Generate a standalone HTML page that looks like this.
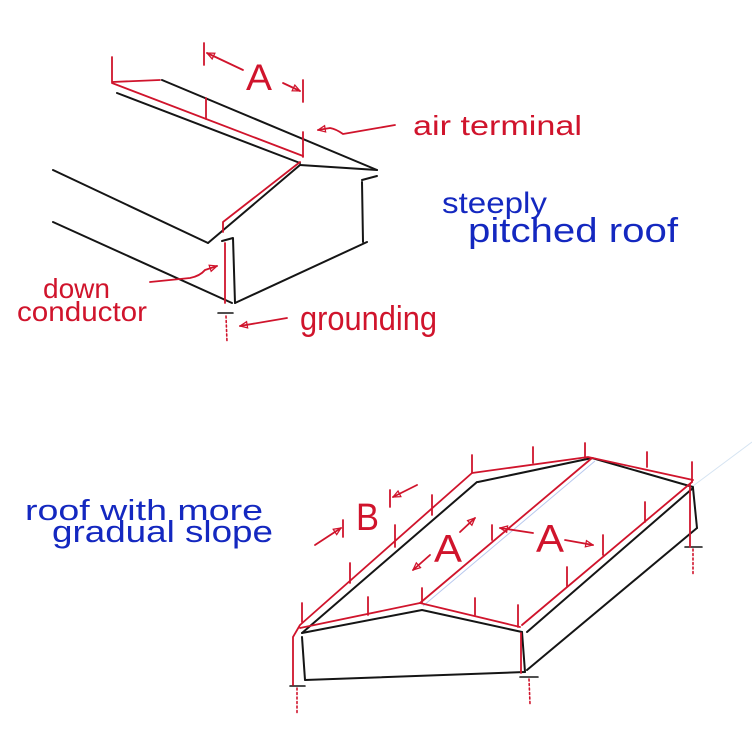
<!DOCTYPE html>
<html>
<head>
<meta charset="utf-8">
<style>
html,body{margin:0;padding:0;background:#ffffff;}
svg{display:block;}
text{font-family:"Liberation Sans",sans-serif;}
</style>
</head>
<body>
<svg width="752" height="736" viewBox="0 0 752 736" xmlns="http://www.w3.org/2000/svg">
<defs>
<marker id="ah" viewBox="0 0 10 10" refX="9" refY="5" markerWidth="9" markerHeight="9" markerUnits="userSpaceOnUse" orient="auto">
<path d="M1,1.5 L9,5 L1,8.5 Z" fill="none" stroke="#d0142c" stroke-width="1.4"/>
</marker>
</defs>
<rect width="752" height="736" fill="#ffffff"/>

<!-- ===== TOP DRAWING ===== -->
<g fill="none" stroke="#151515" stroke-width="2" stroke-linecap="round" stroke-linejoin="round">
<path d="M162,80 L377,170"/>
<path d="M117,93 L300,163"/>
<path d="M300,165 L377,170"/>
<path d="M300,165 L208,243"/>
<path d="M53,170 L208,243"/>
<path d="M53,222 L232,303"/>
<path d="M222,241 L233,238 L235,303"/>
<path d="M235,303 L367,242"/>
<path d="M362,182 L363,242"/>
<path d="M362,180 L377,176"/>
<path d="M218,313 L233,313" stroke-width="1.6"/>
</g>
<g fill="none" stroke="#d0142c" stroke-width="1.8" stroke-linecap="round" stroke-linejoin="round">
<path d="M112,57 L112,82 L160,80"/>
<path d="M112,83 L303,156"/>
<path d="M303,132 L303,157"/>
<path d="M206,98 L206,119"/>
<path d="M300,162 L223,222 L223,232"/>
<path d="M225,243 L225,303"/>
<path d="M204,43 L204,65"/>
<path d="M303,80 L303,102"/>
<path d="M243,70 L207,53" marker-end="url(#ah)"/>
<path d="M283,83 L300,91" marker-end="url(#ah)"/>
<path d="M395,125 L343,134 Q336,129 330,128 L318,130" marker-end="url(#ah)"/>
<path d="M150,282 L190,278 Q200,276 205,270 L217,266" marker-end="url(#ah)"/>
<path d="M287,318 L240,326" marker-end="url(#ah)"/>
<path d="M226,316 L227,342" stroke-dasharray="2,2.5" stroke-width="1.6"/>
</g>

<!-- ===== BOTTOM DRAWING ===== -->
<path d="M420,603 L592,458" fill="none" stroke="#b8c8ee" stroke-width="1" transform="translate(3,3)"/>
<path d="M693,486 L752,442" fill="none" stroke="#d6e4f2" stroke-width="1"/>
<g fill="none" stroke="#151515" stroke-width="2" stroke-linecap="round" stroke-linejoin="round">
<path d="M302,633 L422,610 L522,632"/>
<path d="M302,633 L477,482"/>
<path d="M478,482 L592,458 L693,487"/>
<path d="M527,632 L693,488"/>
<path d="M522,632 L525,672"/>
<path d="M527,670 L697,528"/>
<path d="M693,488 L697,528"/>
<path d="M302,637 L305,680 L525,672"/>
<path d="M290,686 L305,686" stroke-width="1.6"/>
<path d="M520,677 L538,677" stroke-width="1.6"/>
<path d="M685,547 L702,547" stroke-width="1.6"/>
</g>
<g fill="none" stroke="#d0142c" stroke-width="1.8" stroke-linecap="round" stroke-linejoin="round">
<path d="M293,685 L293,637 L300,625 L472,473 L588,457 L693,480"/>
<path d="M300,628 L420,603 L520,627"/>
<path d="M420,603 L592,458"/>
<path d="M522,625 L692,482"/>
<path d="M521,633 L521,673"/>
<path d="M690,484 L690,547"/>
<!-- ticks -->
<path d="M302,603 L302,622"/>
<path d="M350,563 L350,583"/>
<path d="M395,525 L395,547"/>
<path d="M432,495 L432,515"/>
<path d="M472,455 L472,473"/>
<path d="M533,447 L533,463"/>
<path d="M585,443 L585,458"/>
<path d="M647,452 L647,467"/>
<path d="M692,462 L692,482"/>
<path d="M368,597 L368,615"/>
<path d="M422,588 L422,603"/>
<path d="M475,598 L475,615"/>
<path d="M518,605 L518,627"/>
<path d="M567,567 L567,587"/>
<path d="M603,535 L603,555"/>
<path d="M645,502 L645,522"/>
<path d="M492,525 L492,540"/>
<!-- dimension ticks/arrows -->
<path d="M343,520 L343,537"/>
<path d="M390,490 L390,507"/>
<path d="M315,545 L341,528" marker-end="url(#ah)"/>
<path d="M417,485 L393,497" marker-end="url(#ah)"/>
<path d="M430,555 L413,570" marker-end="url(#ah)"/>
<path d="M460,532 L475,518" marker-end="url(#ah)"/>
<path d="M533,533 L500,528" marker-end="url(#ah)"/>
<path d="M565,540 L593,545" marker-end="url(#ah)"/>
<!-- ground dots -->
<path d="M297,688 L297,714" stroke-dasharray="2,2.5" stroke-width="1.6"/>
<path d="M529,679 L530,704" stroke-dasharray="2,2.5" stroke-width="1.6"/>
<path d="M693,549 L693,574" stroke-dasharray="2,2.5" stroke-width="1.6"/>
</g>

<!-- ===== TEXT ===== -->
<g fill="#d0142c">
<text x="413" y="135" font-size="28" textLength="169" lengthAdjust="spacingAndGlyphs">air terminal</text>
<text x="43" y="298" font-size="28" textLength="67" lengthAdjust="spacingAndGlyphs">down</text>
<text x="17" y="321" font-size="28" textLength="130" lengthAdjust="spacingAndGlyphs">conductor</text>
<text x="300" y="330" font-size="34" textLength="137" lengthAdjust="spacingAndGlyphs">grounding</text>
<text x="246" y="90" font-size="37" textLength="26" lengthAdjust="spacingAndGlyphs">A</text>
<text x="356" y="530" font-size="38" textLength="23" lengthAdjust="spacingAndGlyphs">B</text>
<text x="434" y="562" font-size="39" textLength="28" lengthAdjust="spacingAndGlyphs">A</text>
<text x="536" y="552" font-size="39" textLength="28" lengthAdjust="spacingAndGlyphs">A</text>
</g>
<g fill="#1428c0">
<text x="442" y="213" font-size="30" textLength="105" lengthAdjust="spacingAndGlyphs">steeply</text>
<text x="468" y="242" font-size="34" textLength="210" lengthAdjust="spacingAndGlyphs">pitched roof</text>
<text x="25" y="520" font-size="29" textLength="238" lengthAdjust="spacingAndGlyphs">roof with more</text>
<text x="52" y="542" font-size="31" textLength="221" lengthAdjust="spacingAndGlyphs">gradual slope</text>
</g>
</svg>
</body>
</html>
